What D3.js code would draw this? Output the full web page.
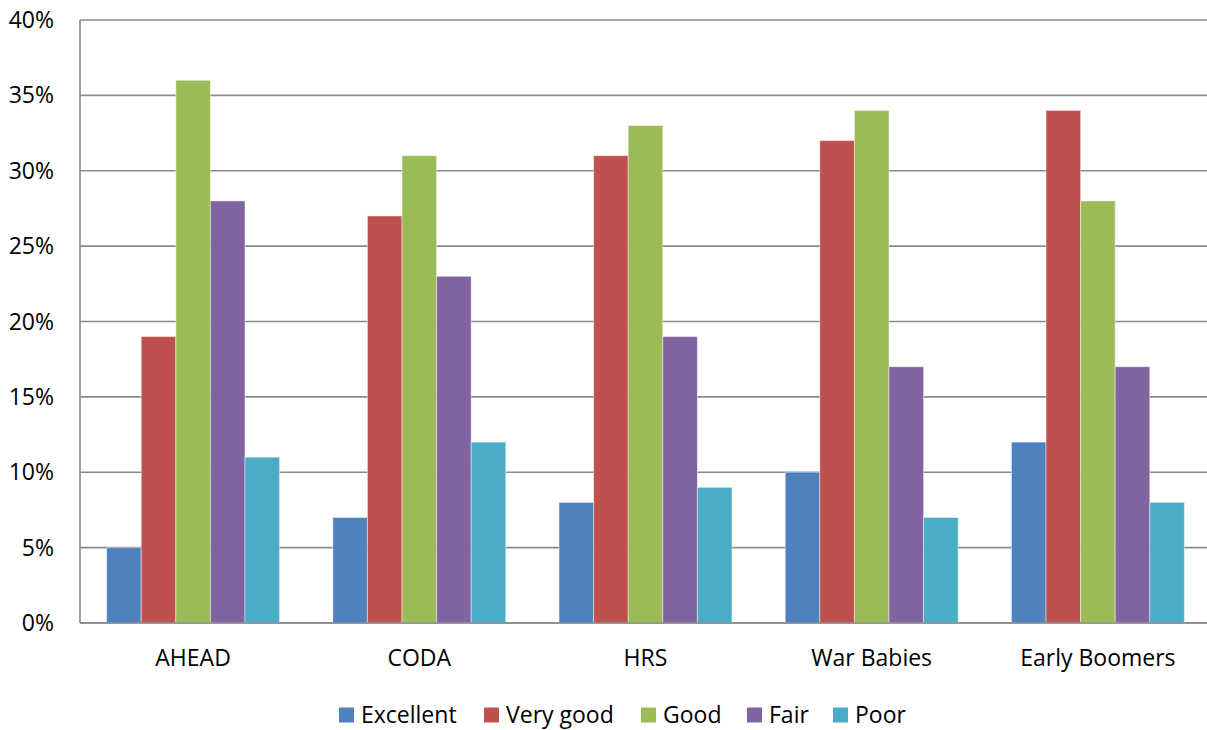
<!DOCTYPE html>
<html>
<head>
<meta charset="utf-8">
<script src="https://cdn.jsdelivr.net/npm/d3@7/dist/d3.min.js"></script>
<style>
  html, body { margin: 0; padding: 0; background: #fff; }
  svg { display: block; font-family: "Open Sans", Lato, sans-serif; }
</style>
</head>
<body>
<svg id="chart" width="1207" height="730"></svg>
<script>
// Self-rated health by cohort (share of respondents)
const cohorts = ["AHEAD", "CODA", "HRS", "War Babies", "Early Boomers"];
const ratings = ["Excellent", "Very good", "Good", "Fair", "Poor"];
const excellent = [5, 7, 8, 10, 12];
const veryGood  = [19, 27, 31, 32, 34];
const good      = [36, 31, 33, 34, 28];
const fair      = [28, 23, 19, 17, 17];
const poor      = [11, 12, 9, 7, 8];
const yTicks = [0, 5, 10, 15, 20, 25, 30, 35, 40];
const colors = ["#4F81BD", "#C0504D", "#9BBB59", "#8064A2", "#4BACC6"];

const seriesValues = [excellent, veryGood, good, fair, poor];

const svg = d3.select("#chart");
const plotLeft = 80, plotRight = 1211, plotTop = 20, plotBottom = 623;

const x0 = d3.scaleBand().domain(cohorts).range([plotLeft, plotRight]);
const x1 = d3.scaleBand().domain(ratings).range([0, x0.bandwidth()]).paddingInner(0).paddingOuter(0.77);
const y = d3.scaleLinear().domain([0, 40]).range([plotBottom, plotTop]);
const color = d3.scaleOrdinal().domain(ratings).range(colors);

// horizontal gridlines
svg.append("g")
  .selectAll("line")
  .data(yTicks)
  .join("line")
  .attr("x1", plotLeft).attr("x2", plotRight)
  .attr("y1", d => y(d)).attr("y2", d => y(d))
  .attr("stroke", "#8a8a8a").attr("stroke-width", 1.6);

// bars
const groups = svg.append("g")
  .selectAll("g")
  .data(cohorts)
  .join("g")
  .attr("transform", d => `translate(${x0(d)},0)`);

groups.selectAll("rect")
  .data((c, i) => ratings.map((r, j) => ({ rating: r, value: seriesValues[j][i] })))
  .join("rect")
  .attr("x", d => x1(d.rating))
  .attr("width", x1.bandwidth())
  .attr("y", d => y(d.value))
  .attr("height", d => y(0) - y(d.value))
  .attr("fill", d => color(d.rating))
  .attr("stroke", "rgba(255,255,255,0.45)")
  .attr("stroke-width", 1);

// axis lines
svg.append("line")
  .attr("x1", plotLeft).attr("x2", plotLeft).attr("y1", plotTop).attr("y2", plotBottom)
  .attr("stroke", "#8a8a8a").attr("stroke-width", 1.6);
svg.append("line")
  .attr("x1", plotLeft).attr("x2", plotRight).attr("y1", plotBottom).attr("y2", plotBottom)
  .attr("stroke", "#8a8a8a").attr("stroke-width", 1.6);

// y tick labels
svg.append("g")
  .selectAll("text")
  .data(yTicks)
  .join("text")
  .attr("x", 54)
  .attr("y", d => y(d))
  .attr("dy", "0.35em")
  .attr("text-anchor", "end")
  .attr("font-size", 23)
  .attr("fill", "#000")
  .text(d => d + "%");

// category labels
svg.append("g")
  .selectAll("text")
  .data(cohorts)
  .join("text")
  .attr("x", d => x0(d) + x0.bandwidth() / 2)
  .attr("y", 658)
  .attr("dy", "0.35em")
  .attr("text-anchor", "middle")
  .attr("font-size", 23)
  .attr("fill", "#000")
  .text(d => d);

// legend
const legendX = [339, 484, 641, 747, 833];
const legend = svg.append("g")
  .selectAll("g")
  .data(ratings)
  .join("g")
  .attr("transform", (d, i) => `translate(${legendX[i]},715)`);
legend.append("rect")
  .attr("x", 0).attr("y", -7.5).attr("width", 15).attr("height", 15)
  .attr("fill", d => color(d));
legend.append("text")
  .attr("x", 22).attr("y", 0).attr("dy", "0.35em")
  .attr("font-size", 23).attr("fill", "#000")
  .text(d => d);
</script>
</body>
</html>
